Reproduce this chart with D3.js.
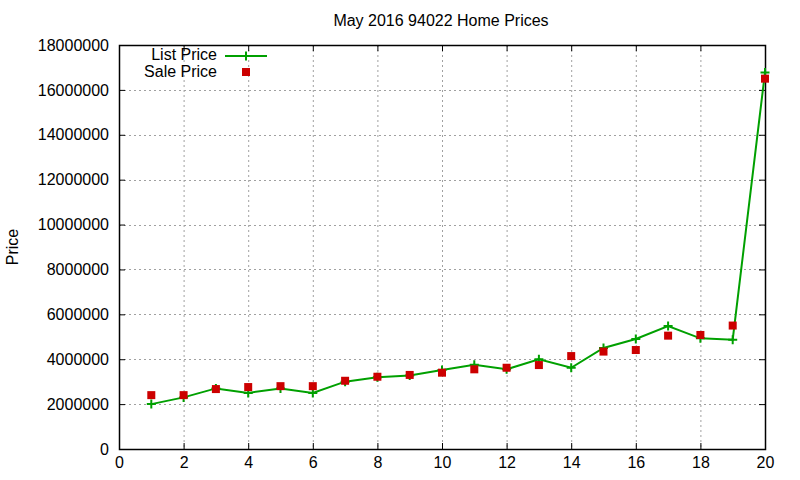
<!DOCTYPE html>
<html>
  <head>
    <meta charset="UTF-8">
    <title>May 2016 94022 Home Prices</title>
    <script src="https://d3js.org/d3.v7.min.js"></script>
    <style>
      body { margin: 0; background: #fff; }
      text { font-family: "Liberation Sans", Arial, sans-serif; fill: #000; }
    </style>
  </head>
  <body>
    <svg id="chart" width="800" height="480"></svg>
    <script>
      // Data
      const homes = d3.range(1, 21);
      const listPrice = [2000000, 2300000, 2700000, 2500000, 2700000, 2500000, 3000000, 3200000, 3270000, 3520000,
                         3750000, 3550000, 4000000, 3620000, 4500000, 4900000, 5480000, 4930000, 4870000, 16780000];
      const salePrice = [2400000, 2400000, 2670000, 2760000, 2800000, 2800000, 3040000, 3220000, 3300000, 3400000,
                         3550000, 3620000, 3740000, 4140000, 4340000, 4410000, 5050000, 5080000, 5500000, 16500000];
      const xTicks = d3.range(0, 21, 2);
      const yTicks = d3.range(0, 18000001, 2000000);

      const svg = d3.select("#chart");
      const mLeft = 119, mRight = 765, mTop = 45, mBottom = 449;

      const x = d3.scaleLinear().domain([0, 20]).range([mLeft, mRight]);
      const y = d3.scaleLinear().domain([0, 18000000]).range([mBottom, mTop]);

      // Grid lines
      const grid = svg.append("g").attr("stroke", "#a0a0a0").attr("stroke-dasharray", "2,3").attr("stroke-width", 1);
      grid.selectAll(".gx").data(xTicks.filter(d => d > 0 && d < 20)).join("line")
        .attr("x1", d => x(d) + 0.5).attr("x2", d => x(d) + 0.5)
        .attr("y1", mTop).attr("y2", mBottom);
      grid.selectAll(".gy").data(yTicks.filter(d => d > 0 && d < 18000000)).join("line")
        .attr("y1", d => Math.round(y(d)) + 0.5).attr("y2", d => Math.round(y(d)) + 0.5)
        .attr("x1", mLeft).attr("x2", mRight);

      // Axes, gnuplot style: ticks inside, mirrored
      const axisB = d3.axisBottom(x).tickValues(xTicks).tickSizeInner(-6).tickSizeOuter(0).tickPadding(8);
      const axisT = d3.axisTop(x).tickValues(xTicks).tickSizeInner(-6).tickSizeOuter(0).tickFormat("");
      const axisL = d3.axisLeft(y).tickValues(yTicks).tickSizeInner(-6).tickSizeOuter(0).tickPadding(10).tickFormat(d3.format("d"));
      const axisR = d3.axisRight(y).tickValues(yTicks).tickSizeInner(-6).tickSizeOuter(0).tickFormat("");

      [[axisB, `translate(0,${mBottom})`], [axisT, `translate(0,${mTop})`],
       [axisL, `translate(${mLeft},0)`], [axisR, `translate(${mRight},0)`]].forEach(([ax, tr]) => {
        const g = svg.append("g").attr("transform", tr).call(ax);
        g.select(".domain").remove();
        g.selectAll("line").attr("stroke", "#000");
        g.selectAll("text").attr("font-size", 16).style("font-family", "'Liberation Sans', Arial, sans-serif");
      });

      svg.append("rect")
        .attr("x", mLeft + 0.5).attr("y", mTop + 0.5)
        .attr("width", mRight - mLeft).attr("height", mBottom - mTop)
        .attr("fill", "none").attr("stroke", "#000").attr("stroke-width", 1.5);

      // List price line with plus markers
      const green = "#00a000", red = "#cc0000";
      const line = d3.line().x((d, i) => x(homes[i])).y(d => y(d));
      svg.append("path").datum(listPrice)
        .attr("d", line).attr("fill", "none").attr("stroke", green).attr("stroke-width", 2);

      function plusPath(cx, cy, r) {
        return `M${cx - r},${cy}H${cx + r}M${cx},${cy - r}V${cy + r}`;
      }
      svg.append("g").selectAll("path").data(listPrice).join("path")
        .attr("d", (d, i) => plusPath(x(homes[i]), y(d), 4.5))
        .attr("stroke", green).attr("stroke-width", 2).attr("fill", "none");

      // Sale price squares
      svg.append("g").selectAll("rect").data(salePrice).join("rect")
        .attr("x", (d, i) => x(homes[i]) - 4).attr("y", d => y(d) - 4)
        .attr("width", 8).attr("height", 8).attr("fill", red);

      // Title and axis label
      svg.append("text").attr("x", 441).attr("y", 26).attr("text-anchor", "middle")
        .attr("font-size", 16).text("May 2016 94022 Home Prices");
      svg.append("text").attr("transform", "translate(18,247) rotate(-90)")
        .attr("text-anchor", "middle").attr("font-size", 16).text("Price");

      // Legend
      const legend = svg.append("g").attr("font-size", 16);
      legend.append("text").attr("x", 217).attr("y", 60).attr("text-anchor", "end").text("List Price");
      legend.append("line").attr("x1", 225).attr("x2", 267).attr("y1", 56).attr("y2", 56)
        .attr("stroke", green).attr("stroke-width", 2);
      legend.append("path").attr("d", plusPath(246, 56, 4.5)).attr("stroke", green).attr("stroke-width", 2);
      legend.append("text").attr("x", 217).attr("y", 77).attr("text-anchor", "end").text("Sale Price");
      legend.append("rect").attr("x", 242).attr("y", 68).attr("width", 8).attr("height", 8).attr("fill", red);
    </script>
  </body>
</html>
